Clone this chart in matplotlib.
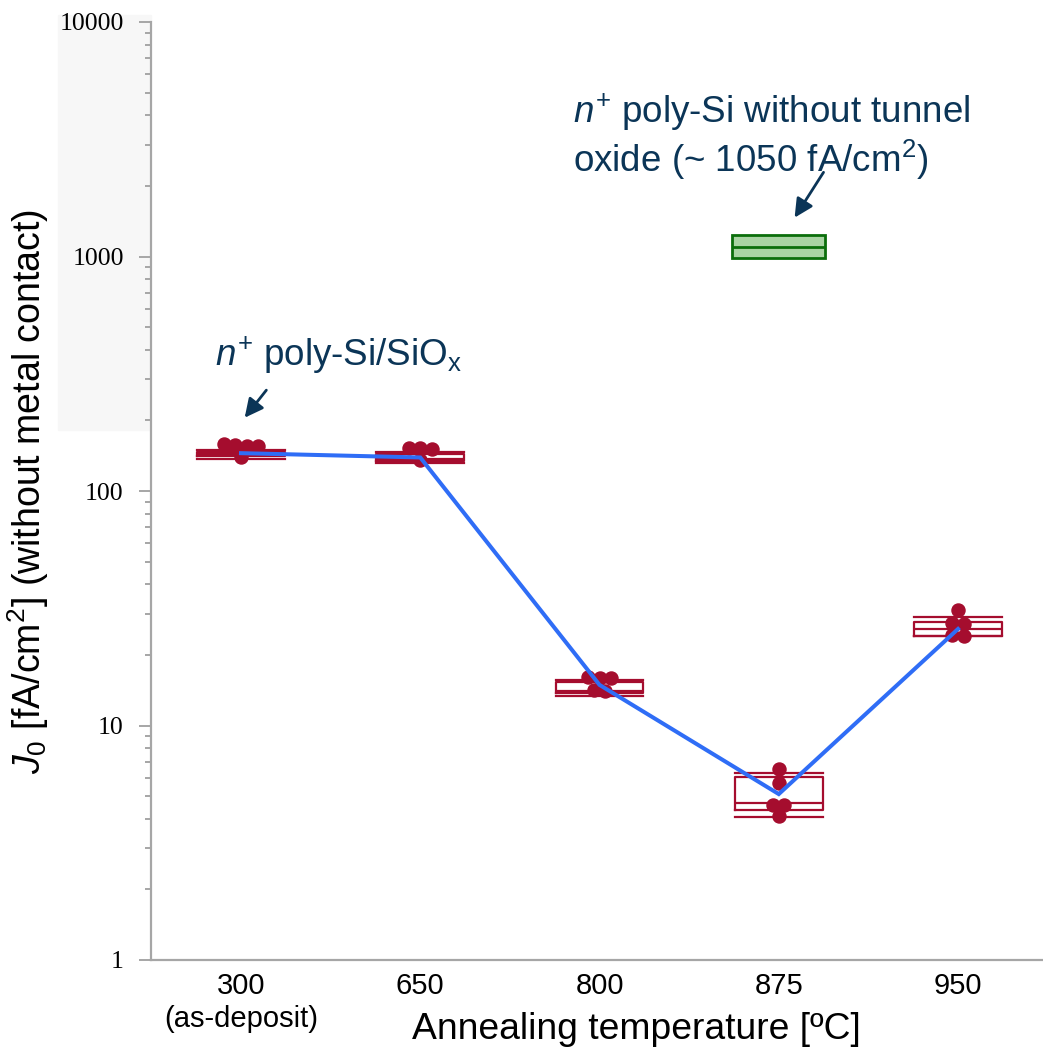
import numpy as np
import matplotlib
matplotlib.use("Agg")
import matplotlib.pyplot as plt
from matplotlib.patches import Rectangle

plt.rcParams["font.family"] = ["Liberation Sans", "DejaVu Sans"]
plt.rcParams["mathtext.fontset"] = "custom"
plt.rcParams["mathtext.rm"] = "Liberation Sans"
plt.rcParams["mathtext.it"] = "Liberation Sans:italic"
plt.rcParams["mathtext.bf"] = "Liberation Sans:bold"

# annealing temperatures (categorical x axis)
categories = ["300\n(as-deposit)", "650", "800", "875", "950"]

# individual J0 measurements per temperature [fA/cm2]
pts_300 = [155, 157, 156, 158, 139]
pts_650 = [152, 153, 151, 136]
pts_800 = [16.0, 16.1, 15.9, 14.2, 14.1]
pts_875 = [6.5, 5.7, 4.6, 4.6, 4.1]
pts_950 = [31.0, 27.3, 27.2, 24.1, 24.2]
points = [pts_300, pts_650, pts_800, pts_875, pts_950]

# box statistics per temperature
whis_lo = [137, 131, 13.4, 4.08, 24.0]
q1 = [141, 134.6, 13.7, 4.36, 24.1]
med = [144, 137, 14.0, 4.67, 25.8]
q3 = [147, 144.5, 15.3, 6.05, 27.7]
whis_hi = [150, 146, 15.6, 6.29, 28.9]

# trend line through the groups
trend = [145, 139, 14.9, 5.1, 25.8]

# reference sample without tunnel oxide (at 875 C)
ref_pos = 3
ref_lo, ref_q1, ref_med, ref_q3, ref_hi = 988, 988, 1095, 1236, 1236

RED = "#a50d2e"
BLUE = "#2f6df6"
NAVY = "#0b3557"
GREY = "#a6a6a6"

fig = plt.figure(figsize=(10.43, 10.51), dpi=100)
fig.patches.append(Rectangle((58 / 1043, 1 - 430 / 1051), 93 / 1043, 415 / 1051,
                             transform=fig.transFigure, color="#f7f7f7", zorder=-10))
ax = fig.add_axes([151 / 1043, 91 / 1051, 892 / 1043, 938 / 1051])
ax.set_facecolor("white")

pos = np.arange(len(categories))
width = 0.49

stats = [dict(whislo=whis_lo[i], q1=q1[i], med=med[i], q3=q3[i], whishi=whis_hi[i])
         for i in range(len(categories))]
ax.bxp(stats, positions=pos, widths=width, capwidths=width, showfliers=False,
       boxprops=dict(color=RED, lw=1.6),
       medianprops=dict(color=RED, lw=1.6),
       whiskerprops=dict(linestyle="none"),
       capprops=dict(color=RED, lw=1.6), zorder=2)

ref_stats = [dict(whislo=ref_lo, q1=ref_q1, med=ref_med, q3=ref_q3, whishi=ref_hi)]
ax.bxp(ref_stats, positions=[ref_pos], widths=0.52, capwidths=0.52, showfliers=False,
       patch_artist=True,
       boxprops=dict(facecolor="#a9d4a3", edgecolor="#0b6e0b", lw=2),
       medianprops=dict(color="#0b6e0b", lw=2),
       whiskerprops=dict(linestyle="none"),
       capprops=dict(linestyle="none"), zorder=2)


def swarm_offsets(vals, step=0.063, tol=0.02):
    # spread points with nearly equal values symmetrically around the center
    vals = np.asarray(vals, float)
    logs = np.log10(vals)
    order = np.argsort(-logs)
    offs = np.zeros(len(vals))
    groups, cur = [], [order[0]]
    for k in order[1:]:
        if abs(logs[k] - logs[cur[0]]) < tol:
            cur.append(k)
        else:
            groups.append(cur)
            cur = [k]
    groups.append(cur)
    for g in groups:
        n = len(g)
        for j, k in enumerate(g):
            offs[k] = (j - (n - 1) / 2) * step
    return offs


for i, vals in enumerate(points):
    xs = pos[i] + swarm_offsets(vals)
    ax.plot(xs, vals, "o", ms=9.4, color=RED, mec=RED, zorder=3)

ax.plot(pos, trend, color=BLUE, lw=2.9, zorder=4, solid_joinstyle="miter")

ax.set_yscale("log")
ax.set_ylim(1, 10000)
ax.set_xlim(-0.502, 4.474)

ax.yaxis.set_major_locator(matplotlib.ticker.LogLocator(base=10, numticks=10))
ax.yaxis.set_minor_locator(matplotlib.ticker.LogLocator(base=10, subs=np.arange(2, 10), numticks=20))
ax.yaxis.set_major_formatter(matplotlib.ticker.FuncFormatter(lambda v, p: f"{v:.0f}"))
ax.yaxis.set_minor_formatter(matplotlib.ticker.NullFormatter())
ax.tick_params(axis="y", which="major", length=8.6, width=1.4, color=GREY, pad=11,
               labelsize=18.5, labelfontfamily="Liberation Serif")
ax.tick_params(axis="y", which="minor", length=4.3, width=1.4, color=GREY)

ax.set_xticks(pos, categories)
ax.tick_params(axis="x", length=0, pad=9, labelsize=21)

for s in ["top", "right"]:
    ax.spines[s].set_visible(False)
for s in ["left", "bottom"]:
    ax.spines[s].set_color(GREY)
    ax.spines[s].set_linewidth(1.6)

ax.set_xlabel("Annealing temperature [ºC]", fontsize=26.8, va="center")
ax.xaxis.set_label_coords(0.544, -0.0746)
ax.set_ylabel(r"$J_{\mathit{0}}$ [fA/cm$^{2}$] (without metal contact)", fontsize=27, va="center")
ax.yaxis.set_label_coords(-0.138, 0.499)

ax.text(-0.145, 380, r"$n^{+}$ poly-Si/SiO$_{\mathrm{x}}$", fontsize=26.5, color=NAVY,
        ha="left", va="center")
ax.annotate("", xy=(0.011, 201), xytext=(0.151, 275),
            arrowprops=dict(arrowstyle="-|>", color=NAVY, lw=2, mutation_scale=28))

ax.text(1.852, 4130, r"$n^{+}$ poly-Si without tunnel", fontsize=26.5, color=NAVY,
        ha="left", va="center")
ax.text(1.852, 2582, r"oxide (~ 1050 fA/cm$^{2}$)", fontsize=26.5, color=NAVY,
        ha="left", va="center")
ax.annotate("", xy=(3.08, 1431), xytext=(3.258, 2339),
            arrowprops=dict(arrowstyle="-|>", color=NAVY, lw=2, mutation_scale=28))

fig.savefig("out.png", dpi=100)
